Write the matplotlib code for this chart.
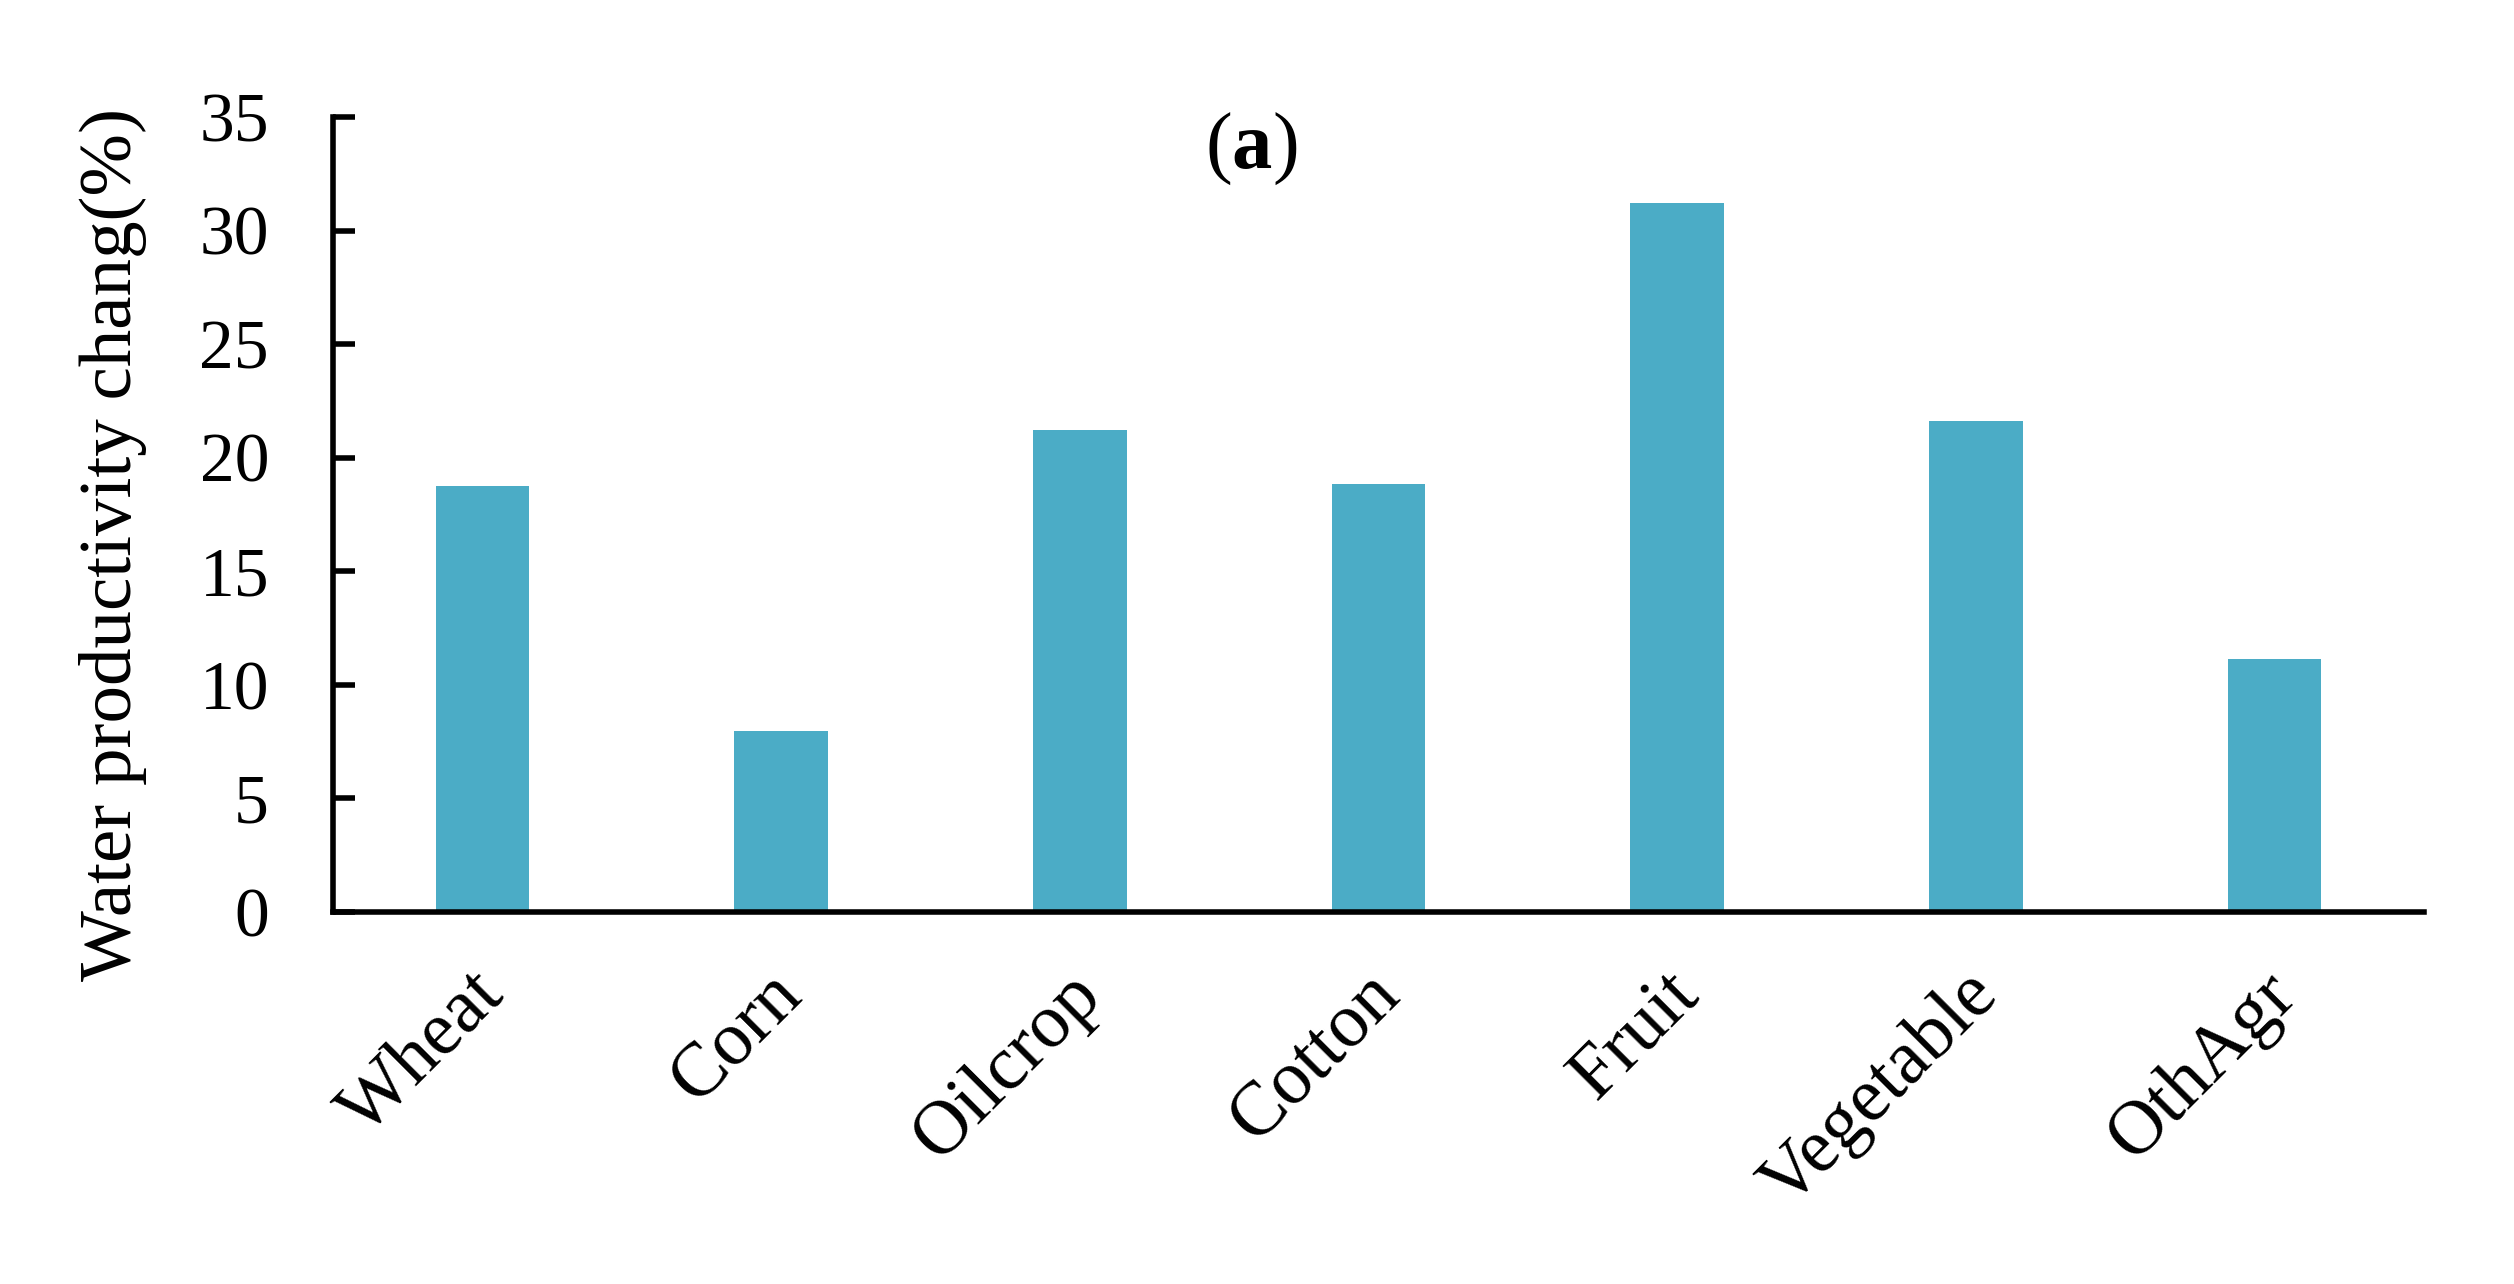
import matplotlib
matplotlib.use("Agg")
import matplotlib.pyplot as plt
import matplotlib.transforms as mtransforms

categories = ["Wheat", "Corn", "Oilcrop", "Cotton", "Fruit", "Vegetable", "OthAgr"]
values = [18.76, 7.98, 21.22, 18.85, 31.22, 21.63, 11.14]
yticks = [0, 5, 10, 15, 20, 25, 30, 35]
ylabel = "Water productivity chang(%)"
panel = r"($\mathbf{a}$)"

plt.rcParams['font.family'] = ['Liberation Serif', 'DejaVu Serif']
plt.rcParams['mathtext.fontset'] = 'custom'
plt.rcParams['mathtext.rm'] = 'Liberation Serif'
plt.rcParams['mathtext.bf'] = 'Liberation Serif:bold'

fig = plt.figure(figsize=(25.14, 12.84), dpi=100)
ax = fig.add_axes([333/2514, 1-912/1284, (2424-333)/2514, (912-117)/1284])

x = list(range(len(categories)))
ax.bar(x, values, width=0.313, color="#4BACC6", zorder=2)

ax.set_xlim(-0.5, len(categories)-0.5)
ax.set_ylim(0, 35)
ax.set_yticks(yticks)
ax.set_yticklabels([str(t) for t in yticks], fontsize=50)
ax.set_xticks(x)
ax.set_xticklabels(categories, fontsize=55, rotation=45, ha='right',
                   va='top', rotation_mode='anchor')
ax.tick_params(axis='x', length=0, pad=34)
ax.tick_params(axis='y', direction='in', length=16, width=4, pad=46)

offset = mtransforms.ScaledTranslation(-14/100, 0, fig.dpi_scale_trans)
for lab in ax.get_xticklabels():
    lab.set_transform(lab.get_transform() + offset)

for s in ['top', 'right']:
    ax.spines[s].set_visible(False)
for s in ['left', 'bottom']:
    ax.spines[s].set_linewidth(4)

ax.set_ylabel(ylabel, fontsize=54)
ax.yaxis.set_label_coords(-0.089, 0.462)

fig.text(0.4976, 1-149/1284, panel, fontsize=58,
         ha='center', va='center')

fig.savefig("out.png", dpi=100)
